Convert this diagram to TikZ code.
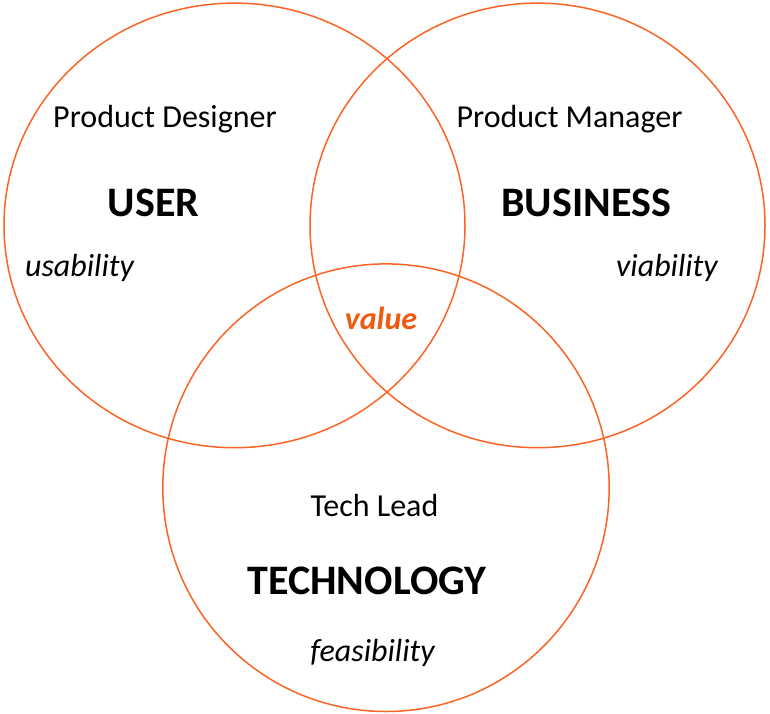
\documentclass[tikz,border=0pt]{standalone}
\usepackage{fontspec}
\setmainfont{Carlito}
\definecolor{ring}{HTML}{FA6424}
\definecolor{valc}{HTML}{F05A0F}
\begin{document}
\begin{tikzpicture}[x=1pt,y=-1pt,
  ring/.style={draw=ring,line width=1.5pt},
  role/.style={anchor=base,font=\fontsize{32}{38}\selectfont,inner sep=0pt},
  area/.style={anchor=base,font=\fontsize{42}{50}\selectfont\bfseries,inner sep=0pt},
  qual/.style={anchor=base,font=\fontsize{32}{38}\selectfont\itshape,inner sep=0pt}]
\useasboundingbox (0,0) rectangle (770,713);
\draw[ring] (234.5,225.4) ellipse [x radius=230.5, y radius=222.3];
\draw[ring] (537.5,225.4) ellipse [x radius=227.5, y radius=222.3];
\draw[ring] (386,487.7) ellipse [x radius=223.2, y radius=223.8];
\node[role] (pd) at (165,127) {Product Designer};
\node[role] (pm) at (569.5,127) {Product Manager};
\node[area] (user) at (153.5,216) {USER};
\node[area] (bus) at (586,216) {BUSINESS};
\node[qual] (usa) at (79.5,276) {usability};
\node[qual] (via) at (667,276) {viability};
\node[qual,font=\fontsize{32}{38}\selectfont\bfseries\itshape,text=valc] (val) at (381,329) {value};
\node[role] (tl) at (374.5,516) {Tech Lead};
\node[area] (tech) at (367,594) {TECHNOLOGY};
\node[qual] (fea) at (372.5,661) {feasibility};
\end{tikzpicture}
\end{document}
